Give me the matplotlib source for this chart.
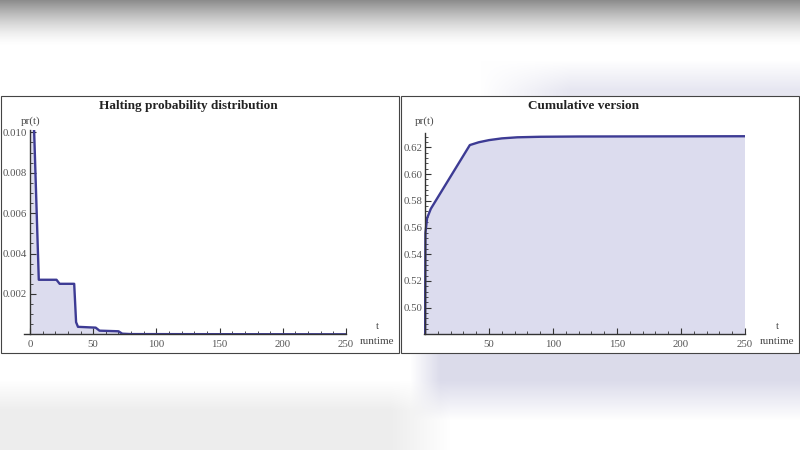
import numpy as np
import matplotlib
matplotlib.use('Agg')
import matplotlib.pyplot as plt
from matplotlib.patches import Rectangle
from matplotlib.ticker import MultipleLocator, FixedLocator

# halting probability, values above 0.010 are clipped
t_pdf = [1, 2, 3, 7, 21, 23.5, 35, 36.5, 38, 52, 55, 70, 73, 80, 250]
pr_pdf = [0.55, 0.012, 0.0107, 0.0027, 0.0027, 0.0025, 0.0025, 0.0006,
          0.00037, 0.00033, 0.00018, 0.00015, 0.00003, 0.00001, 0.0]

# cumulative version
t_cum = [0, 0.3, 1.6, 4.5, 35, 42, 50, 60, 72, 90, 120, 250]
pr_cum = [0.47, 0.556, 0.567, 0.574, 0.6217, 0.6238, 0.6254, 0.6267,
          0.6275, 0.6279, 0.6281, 0.6283]

titles = ['Halting probability distribution', 'Cumulative version']
pdf_yticks = [0.002, 0.004, 0.006, 0.008, 0.010]
cum_yticks = [0.50, 0.52, 0.54, 0.56, 0.58, 0.60, 0.62]

LINE = '#3d3b94'
FILL = '#dcdcee'
SERIF = 'Liberation Serif'

W, H = 800, 450
fig = plt.figure(figsize=(8, 4.5), dpi=100)

# blurred backdrop behind the two panels
bg = fig.add_axes([0, 0, 1, 1])
yy, xx = np.mgrid[0:H, 0:W].astype(float)
img = np.ones((H, W, 3))
top = np.clip(1 - yy / 45.0, 0, 1) ** 1.5
for c in range(3):
    img[:, :, c] -= 0.45 * top
lav = np.array([0.86, 0.86, 0.92])
mask_top = 0.7 * np.clip((xx - 480) / 90.0, 0, 1) * np.clip((yy - 60) / 30.0, 0, 1) * (yy < 100)
mask_bot = np.clip((xx - 410) / 30.0, 0, 1) * np.clip((420 - yy) / 40.0, 0, 1) * (yy > 350)
mask_gray = np.clip((yy - 380) / 30.0, 0, 1) * np.clip((450 - xx) / 60.0, 0, 1)
for c in range(3):
    img[:, :, c] = img[:, :, c] * (1 - mask_top) + lav[c] * mask_top
    img[:, :, c] = img[:, :, c] * (1 - mask_bot) + lav[c] * mask_bot
    img[:, :, c] = img[:, :, c] * (1 - 0.07 * mask_gray)
bg.imshow(np.clip(img, 0, 1), aspect='auto', extent=[0, W, H, 0])
bg.set_xlim(0, W)
bg.set_ylim(H, 0)
bg.axis('off')

# white panels with thin frames
bg.add_patch(Rectangle((0.5, 95.5), 398.5, 257.5, facecolor='white', edgecolor='#444444', lw=0.8))
bg.add_patch(Rectangle((401, 95.5), 398, 257.5, facecolor='white', edgecolor='#444444', lw=0.8))


def px(x0, y0, x1, y1):
    return [x0 / W, 1 - y1 / H, (x1 - x0) / W, (y1 - y0) / H]


def style(ax, xticks, yticks, yminor, yfmt):
    for s in ['top', 'right']:
        ax.spines[s].set_visible(False)
    ax.spines['left'].set_position(('data', 0))
    for s in ['left', 'bottom']:
        ax.spines[s].set_color('#333333')
        ax.spines[s].set_linewidth(1.0)
    ax.set_facecolor('none')
    ax.xaxis.set_major_locator(FixedLocator(xticks))
    ax.xaxis.set_minor_locator(MultipleLocator(10))
    ax.yaxis.set_major_locator(FixedLocator(yticks))
    ax.yaxis.set_minor_locator(MultipleLocator(yminor))
    ax.set_xticklabels([str(v) for v in xticks])
    ax.set_yticklabels([yfmt % v for v in yticks])
    ax.tick_params(which='both', direction='in', colors='#333333', labelcolor='#555555',
                   labelsize=7.8)
    ax.tick_params(which='major', length=4, width=0.8)
    ax.tick_params(which='minor', length=2, width=0.6)
    ax.tick_params(axis='x', pad=4)
    ax.tick_params(axis='y', pad=2)
    for lab in ax.get_xticklabels() + ax.get_yticklabels():
        lab.set_family(SERIF)


# left panel
ax1 = fig.add_axes(px(24, 130.3, 346, 334.3))
ax1.fill_between(t_pdf, pr_pdf, 0, color=FILL, lw=0)
ax1.plot(t_pdf, pr_pdf, color=LINE, lw=1.7, solid_joinstyle='round')
ax1.set_xlim(-4.7, 250)
ax1.set_ylim(0, 0.0101)
style(ax1, [0, 50, 100, 150, 200, 250], pdf_yticks, 0.0005, '%.3f')

# right panel
ax2 = fig.add_axes(px(424.4, 133.3, 745, 334.3))
ax2.fill_between(t_cum, pr_cum, 0, color=FILL, lw=0)
ax2.plot(t_cum, pr_cum, color=LINE, lw=1.7, solid_joinstyle='round')
ax2.set_xlim(-0.5, 250)
ax2.set_ylim(0.4801, 0.6305)
style(ax2, [50, 100, 150, 200, 250], cum_yticks, 0.004, '%.2f')

# titles and axis labels in pixel positions
for x, title in zip([188, 584], titles):
    bg.text(x, 106, title, ha='center', va='center', family=SERIF,
            fontweight='bold', fontsize=9.5, color='#222222')
for x in [31, 425]:
    bg.text(x, 121, 'pr(t)', ha='center', va='center', family=SERIF,
            fontsize=8, color='#444444')
for x in [377, 777]:
    bg.text(x, 326.5, 't', ha='center', va='center', family=SERIF,
            fontsize=8, color='#444444')
    bg.text(x, 342, 'runtime', ha='center', va='center', family=SERIF,
            fontsize=8, color='#444444')

fig.savefig('out.png', dpi=100)
